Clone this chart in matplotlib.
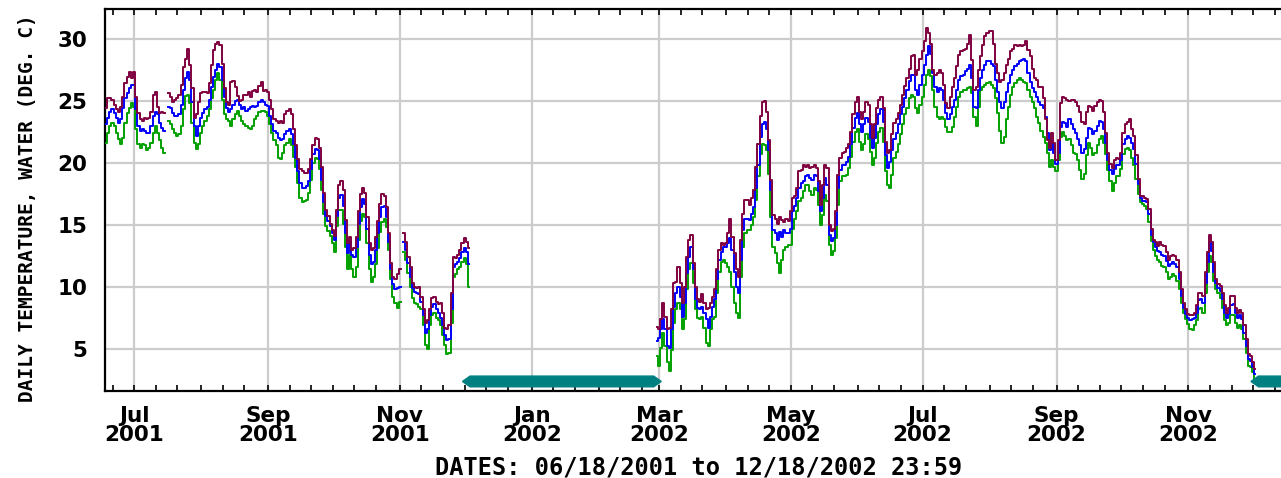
import numpy as np
import pandas as pd
import matplotlib
matplotlib.use("Agg")
import matplotlib.pyplot as plt
import matplotlib.dates as mdates
import matplotlib.transforms as mtrans
from matplotlib.font_manager import FontProperties

# daily water temperature, deg C (None = missing day)
seg1_start = "2001-06-18"
seg1_max = [24.4, 25.2, 25.2, 25.1, 24.7, 24.3, 24.1, 24.5, 25.3, 26.4, 26.9, 27.3, 26.8, 27.3, 25.3, 24.0, 23.5, 23.4, 23.6, 23.5,
            23.6, 24.1, 25.5, 25.7, 24.5, 24.0, 24.1, 24.0, None,
            25.6, 25.3, 24.9, 25.1, 25.2, 25.5, 26.3, 27.7, 28.4, 29.2, 27.9, 26.0, 23.6, 23.9, 24.9, 25.6, 25.7, 25.7, 25.6, 26.4,
            27.9, 29.1, 29.6, 29.7, 29.5, 28.0, 26.0, 24.9, 24.7,
            26.5, 26.6, 26.1, 25.4, 25.0, 25.1, 25.5, 25.5, 25.7, 25.3, 25.8, 25.9, 25.7, 26.2, 26.5, 25.8, 25.9, 25.7,
            25.1, 24.3, 23.5, 23.4, 23.2, 23.4, 23.2, 23.9, 24.2, 24.3, 23.9,
            22.7, 21.4, 20.3, 19.5, 19.3, 19.2, 19.2, 19.5, 20.3, 21.4,
            22.0, 21.9, 21.2, 19.7, 17.6, 16.2, 15.7, 15.1, 14.6, 14.1,
            16.2, 18.2, 18.5, 17.8, 15.4, 13.5,
            14.0, 13.0, 13.1, 14.0, 16.1, 17.5, 18.0, 17.6, 15.6, 13.5, 13.0, 13.1, 14.0, 15.3, 16.7, 17.5, 17.3, 16.4,
            14.3, 11.9, 10.8, 10.6, 11.0, 11.4, None,
            14.3, 13.6, 12.4, 11.6, 10.3, 10.0, 9.9, 10.0, 9.2, 8.2, 7.1, 7.3, 8.2, 9.1, 9.2, 8.8, 8.6, 8.7, 7.9, 6.7,
            6.6, 6.9, 9.5, 12.4, 12.3, 12.6, 13.0, 13.5, 13.9, 13.6, 13.1]
seg1_mean = [23.1, 23.6, 24.1, 24.3, 24.0, 23.6, 23.2, 23.5, 24.4, 25.2, 25.6, 26.0, 26.3, 26.3, 24.3, 23.0, 22.6, 22.7, 22.6, 22.4,
             22.4, 23.0, 23.8, 24.1, 23.9, 23.2, 22.8, 22.6, None,
             24.5, 24.4, 24.0, 23.8, 23.8, 23.9, 24.7, 25.9, 26.8, 27.3, 26.7, 24.9, 23.0, 22.2, 23.0, 23.6, 24.0, 24.3, 24.5, 25.1,
             26.1, 26.9, 27.5, 28.0, 27.7, 26.7, 25.3, 24.4, 24.1,
             24.3, 24.7, 25.0, 25.1, 24.7, 24.3, 24.5, 24.2, 24.3, 24.5, 24.6, 24.5, 24.6, 24.9, 25.1, 24.9, 24.7, 24.6,
             23.8, 23.1, 22.6, 22.4, 22.0, 21.8, 21.9, 22.3, 22.6, 22.7, 22.3,
             21.5, 20.4, 19.3, 18.4, 18.0, 18.0, 18.1, 18.5, 19.5, 20.7,
             21.1, 21.0, 20.3, 18.6, 16.8, 15.7, 15.3, 14.9, 14.3, 13.8,
             15.7, 17.2, 17.4, 16.5, 14.3, 12.7,
             13.6, 12.6, 12.4, 13.2, 15.1, 16.4, 17.1, 16.7, 14.7, 12.6, 11.8, 12.0, 13.0, 14.3, 15.6, 16.4, 16.5, 15.6,
             13.6, 11.4, 10.2, 9.8, 9.9, 10.0, None,
             13.6, 13.0, 11.9, 10.8, 9.9, 9.6, 9.5, 9.4, 8.8, 7.7, 6.3, 6.6, 7.7, 8.4, 8.6, 8.2, 7.9, 7.5, 6.9, 6.1,
             5.7, 5.8, 8.2, 11.6, 11.8, 12.0, 12.3, 12.8, 13.1, 12.8, 11.8]
seg1_min = [21.6, 22.4, 23.0, 23.2, 23.0, 22.4, 21.9, 21.5, 22.0, 23.2, 24.0, 24.4, 24.8, 24.5, 22.7, 21.5, 21.2, 21.5, 21.4, 21.0,
            21.2, 21.6, 22.4, 23.0, 22.4, 21.8, 21.2, 20.8, None,
            23.4, 23.1, 22.7, 22.4, 22.2, 22.3, 23.0, 24.3, 25.4, 25.5, 24.8, 23.2, 21.6, 21.1, 21.5, 22.4, 23.0, 23.4, 23.8, 24.3,
            25.2, 25.9, 26.7, 27.2, 26.7, 25.1, 23.9, 23.5, 23.4,
            23.0, 23.5, 23.9, 24.2, 23.8, 23.4, 23.1, 23.0, 22.8, 22.7, 23.0, 23.5, 23.8, 24.1, 24.2, 24.2, 24.1, 23.8,
            23.1, 22.4, 21.8, 21.4, 20.4, 20.3, 20.8, 21.4, 21.6, 21.9, 21.4,
            20.5, 19.7, 18.4, 17.2, 16.8, 16.9, 17.0, 17.6, 18.6, 20.0,
            20.4, 20.3, 19.5, 17.8, 15.9, 14.9, 14.5, 14.1, 13.5, 12.8,
            14.9, 16.2, 16.2, 15.1, 13.2, 11.4,
            12.6, 11.4, 10.8, 11.6, 13.8, 15.3, 15.9, 15.6, 13.5, 11.4, 10.4, 10.8, 11.8, 13.1, 14.4, 15.2, 15.5, 14.8,
            13.0, 10.6, 9.2, 8.7, 8.3, 8.8, None,
            12.8, 12.2, 11.1, 10.0, 9.1, 8.7, 8.6, 8.4, 8.2, 6.9, 5.3, 5.0, 6.9, 7.7, 7.9, 7.5, 7.3, 6.9, 6.1, 5.3,
            4.6, 4.7, 7.1, 10.8, 11.0, 11.4, 11.6, 12.0, 12.3, 11.8, 10.0]

seg2_start = "2002-02-28"
seg2_max = [6.8, 6.6, 7.4, 8.7, 7.6, 6.6, 6.7, 8.2, 10.3, 10.4, 11.6, 10.3, 8.7, 10.0, 12.4, 13.8, 14.2, 11.9, 10.0, 9.0,
            8.8, 9.4, 8.7, 8.2, 8.3, 8.7, 9.2, 9.8, 11.4, 13.0, 13.5, 13.4, 13.5, 14.3, 15.5, 14.0, 12.7, 11.4, 10.8, 13.8,
            15.9, 17.0, 17.0, 16.6, 17.2, 17.8, 19.7, 21.5, 23.8, 24.9, 25.0, 24.1, 21.8, 18.6, 15.8, 15.5, 15.1, 15.6, 15.4, 15.2,
            15.5,
            15.3, 16.1, 17.2, 17.3, 18.0, 19.3, 19.4, 19.8, 19.7, 19.8, 19.6, 19.7, 19.8, 19.6, 18.5, 16.6, 18.2, 19.8, 19.6, 15.0,
            14.5, 14.7, 16.1, 19.0, 20.4, 20.8, 20.9, 21.2, 21.5, 22.5, 23.9, 24.9, 25.3, 24.1, 23.5, 24.1, 24.9, 24.7, 23.1, 22.0,
            23.1, 24.4, 25.1, 25.3, 24.4, 21.7, 20.8, 21.0, 22.3, 23.2, 23.5, 24.0, 24.7, 25.5, 26.2, 26.8, 27.6, 28.6, 28.7, 27.1,
            27.5, 28.4, 29.0, 29.8, 30.9,
            30.5, 29.6, 27.5, 27.1, 27.2, 27.5, 27.2, 26.3, 24.8, 24.4, 25.3, 26.1, 26.8, 27.8, 28.7, 29.0, 29.1, 29.2, 29.6, 30.3,
            28.3, 25.9, 26.1, 27.5, 28.6, 29.5, 30.2, 30.5, 30.6, 30.6, 29.6, 28.0, 27.2, 26.5, 26.7, 27.2, 27.9, 28.4, 29.0, 29.2,
            29.5, 29.4, 29.5, 29.4, 29.5, 29.8, 29.1, 28.6, 27.6, 26.8, 26.7, 26.1, 26.1, 25.2, 23.5, 21.8, 21.2, 22.4, 21.6, 20.2,
            21.8, 24.8, 25.3, 25.2, 25.1,
            25.0, 25.1, 25.1, 24.9, 24.6, 24.1, 23.3, 23.1, 24.1, 24.6, 24.5, 24.2, 24.6, 24.9, 25.1, 25.0, 24.1, 22.4, 20.8, 19.9,
            19.6, 20.2, 20.4, 20.3, 20.8, 22.4, 23.1, 23.3, 23.5, 22.7, 22.2, 20.6, 18.7, 17.3, 17.3, 17.2, 17.1, 16.3, 14.7, 13.8,
            13.6, 13.3, 13.6, 13.4, 13.3, 12.8, 12.2, 12.5, 12.6, 12.5, 12.2, 11.2, 9.8, 8.7, 8.2, 7.8, 7.7, 7.7, 7.9, 8.5,
            9.5, 9.5, 9.3, 11.2, 12.8, 14.2, 13.6, 12.0, 10.6, 10.2, 10.1, 9.5, 8.5, 7.9, 8.3, 9.3, 9.3, 8.3, 7.9, 8.1,
            7.9, 6.9, 5.8, 4.6, 4.4, 3.9, 3.4]
seg2_mean = [5.6, 5.9, 6.6, 7.4, 6.6, 5.2, 5.1, 6.6, 8.4, 9.5, 10.0, 9.2, 7.6, 8.7, 11.1, 12.4, 13.2, 11.4, 9.0, 8.3,
             8.2, 8.4, 7.9, 7.4, 6.7, 7.6, 8.4, 9.0, 10.6, 12.2, 12.8, 13.2, 13.2, 13.5, 13.9, 13.0, 11.2, 10.0, 9.5, 12.2,
             14.6, 15.5, 15.5, 15.4, 15.9, 16.4, 18.0, 19.8, 22.1, 23.1, 23.3, 22.7, 21.0, 17.8, 14.6, 14.3, 13.8, 14.4, 14.0, 14.6,
             14.3,
             14.3, 14.7, 16.1, 16.5, 17.2, 18.0, 18.4, 18.5, 18.9, 19.0, 18.8, 18.6, 19.0, 18.9, 17.7, 16.1, 17.2, 18.8, 18.2, 14.2,
             13.7, 13.9, 15.0, 18.0, 19.4, 19.8, 19.8, 20.1, 20.5, 21.5, 22.8, 23.6, 24.0, 23.1, 22.5, 23.1, 23.6, 23.3, 22.0, 21.2,
             22.0, 23.1, 23.9, 24.3, 23.3, 20.6, 19.6, 20.1, 21.0, 21.9, 22.4, 23.1, 23.9, 24.5, 25.2, 25.9, 26.6, 27.1, 27.1, 25.9,
             25.5, 26.3, 27.1, 27.9, 28.7,
             29.4, 28.8, 27.2, 26.1, 25.7, 26.0, 25.9, 25.1, 24.0, 23.5, 23.9, 24.5, 25.1, 25.9, 26.7, 27.0, 27.1, 27.4, 27.6, 27.9,
             26.8, 24.5, 24.4, 25.9, 26.8, 27.5, 27.9, 28.2, 28.2, 28.0, 27.8, 26.7, 25.7, 24.9, 24.4, 24.9, 25.7, 26.4, 27.1, 27.5,
             27.8, 28.0, 28.2, 28.3, 28.4, 28.2, 27.2, 26.5, 26.0, 25.7, 25.3, 24.9, 24.7, 24.4, 23.7, 22.4, 21.0, 21.6, 20.8, 19.9,
             20.8, 22.9, 23.3, 23.2, 22.9,
             23.5, 23.1, 22.7, 22.4, 21.9, 21.4, 20.8, 21.1, 22.0, 22.8, 22.7, 22.3, 22.6, 23.0, 23.4, 23.3, 22.7, 21.6, 20.2, 19.4,
             19.1, 19.5, 19.8, 19.8, 20.2, 21.5, 21.9, 22.2, 22.0, 21.6, 21.1, 19.9, 18.3, 17.2, 16.9, 16.9, 16.8, 15.9, 14.2, 13.6,
             13.2, 12.9, 12.8, 12.6, 12.5, 12.1, 11.7, 11.8, 12.0, 11.8, 11.6, 10.6, 9.3, 8.3, 7.8, 7.5, 7.3, 7.4, 7.5, 7.9,
             8.9, 9.0, 8.7, 10.3, 12.0, 13.6, 12.9, 11.2, 10.3, 9.9, 9.7, 9.0, 7.9, 7.5, 7.8, 8.5, 8.6, 7.9, 7.5, 7.7,
             7.4, 6.3, 5.2, 4.2, 4.0, 3.5, 3.0]
seg2_min = [4.4, 3.6, 5.1, 6.3, 5.2, 3.9, 3.2, 4.9, 7.1, 8.2, 8.7, 8.2, 6.6, 7.4, 9.8, 11.4, 11.9, 10.3, 8.2, 7.5,
            7.4, 7.6, 6.7, 5.5, 5.2, 6.6, 7.4, 7.6, 9.5, 11.2, 12.0, 12.2, 11.9, 11.6, 11.2, 10.0, 8.7, 7.9, 7.5, 10.8,
            13.2, 14.3, 14.6, 14.6, 15.0, 15.6, 17.0, 18.9, 20.7, 21.5, 21.4, 21.0, 19.1, 15.6, 13.2, 12.7, 11.9, 11.1, 12.2, 13.0,
            13.2,
            13.4, 13.4, 14.7, 15.5, 16.1, 16.9, 17.2, 17.7, 18.2, 18.2, 17.7, 17.4, 18.0, 17.8, 16.6, 15.0, 15.8, 17.4, 16.9, 13.4,
            12.6, 12.9, 13.9, 16.6, 18.5, 18.9, 18.9, 19.0, 19.6, 20.5, 21.7, 22.5, 22.7, 21.7, 21.0, 21.5, 22.3, 21.9, 20.9, 19.8,
            20.4, 21.6, 22.5, 22.8, 21.7, 19.3, 18.2, 18.0, 19.0, 20.4, 20.9, 21.5, 22.3, 23.1, 23.9, 24.4, 25.2, 25.5, 25.3, 24.4,
            24.0, 24.7, 25.3, 26.3, 27.1,
            27.5, 27.0, 25.9, 24.5, 23.7, 23.5, 23.7, 23.5, 22.9, 22.5, 22.5, 22.9, 23.7, 24.5, 25.3, 25.7, 25.9, 25.9, 26.0, 26.1,
            25.6, 23.7, 23.0, 24.5, 25.9, 26.1, 26.3, 26.4, 26.5, 26.3, 26.0, 25.2, 24.0, 22.6, 21.6, 22.1, 23.5, 24.5, 25.5, 26.1,
            26.4, 26.7, 26.8, 26.7, 26.5, 26.4, 25.9, 25.3, 24.9, 24.4, 23.7, 23.2, 22.6, 22.1, 21.6, 20.8, 19.7, 20.2, 19.7, 19.3,
            20.2, 22.1, 22.5, 22.2, 21.8,
            21.9, 21.4, 20.8, 20.7, 20.2, 19.4, 18.7, 19.1, 20.6, 21.6, 21.2, 20.6, 20.8, 21.4, 21.9, 22.2, 21.6, 20.7, 19.4, 18.5,
            17.7, 18.4, 18.9, 18.9, 19.5, 20.7, 21.1, 21.2, 21.0, 20.4, 19.8, 18.7, 17.5, 16.8, 16.7, 16.5, 16.3, 15.2, 13.7, 13.0,
            12.5, 12.2, 12.0, 11.7, 11.6, 11.2, 10.6, 10.8, 11.0, 10.9, 10.5, 9.8, 8.7, 7.9, 7.4, 7.0, 6.6, 6.5, 6.9, 7.3,
            8.2, 8.3, 7.9, 9.5, 11.2, 12.5, 12.0, 10.5, 9.8, 9.5, 9.1, 8.3, 7.3, 6.9, 7.1, 7.7, 7.7, 7.1, 6.7, 6.9,
            6.6, 5.8, 4.7, 3.6, 3.5, 3.1, 2.6]

# periods with no record (teal bars)
gap_periods = [("2001-11-30", "2002-03-02"), ("2002-11-30", "2002-12-22")]

period_start = "2001-06-18"
period_end = "2002-12-18 23:59"

series = [(seg1_start, seg1_max, seg1_mean, seg1_min), (seg2_start, seg2_max, seg2_mean, seg2_min)]

fig = plt.figure(figsize=(12.81, 4.78), dpi=100)
ax = fig.add_axes([105 / 1281, 87 / 478, 1187 / 1281, 382 / 478])

for start, vmax, vmean, vmin in series:
    d = pd.date_range(start, periods=len(vmax), freq="D")
    ax.plot(d, np.array(vmin, dtype=float), color="#00a000", lw=1.4, drawstyle="steps-mid", zorder=3)
    ax.plot(d, np.array(vmean, dtype=float), color="#0000ff", lw=1.4, drawstyle="steps-mid", zorder=4)
    ax.plot(d, np.array(vmax, dtype=float), color="#800040", lw=1.4, drawstyle="steps-mid", zorder=5)

# missing-record bars with pointed ends
trans = mtrans.blended_transform_factory(ax.transData, ax.transAxes)
yc, hh = 0.025, 0.014
for g0, g1 in gap_periods:
    t0 = mdates.date2num(pd.Timestamp(g0))
    t1 = mdates.date2num(pd.Timestamp(g1))
    tp = 3.5
    xs = [t0, t0 + tp, t1 - tp, t1, t1 - tp, t0 + tp]
    ys = [yc, yc + hh, yc + hh, yc, yc - hh, yc - hh]
    ax.fill(xs, ys, color="#008080", transform=trans, zorder=6, clip_on=True)

ax.set_xlim(pd.Timestamp(period_start) - pd.Timedelta(hours=12), pd.Timestamp(period_end))
ax.set_ylim(1.6, 32.4)

ax.xaxis.set_major_locator(mdates.MonthLocator(bymonth=[1, 3, 5, 7, 9, 11]))
ax.xaxis.set_major_formatter(mdates.DateFormatter("%b\n%Y"))
ax.xaxis.set_minor_locator(mdates.DayLocator(bymonthday=[1, 11, 21]))
ax.set_yticks([5, 10, 15, 20, 25, 30])

ax.grid(True, which="major", color="#cccccc", lw=1.6, zorder=0)
ax.set_axisbelow(True)

for s in ["left", "top", "bottom"]:
    ax.spines[s].set_linewidth(1.6)
    ax.spines[s].set_color("black")
ax.spines["right"].set_visible(False)

ax.tick_params(axis="x", which="both", direction="in", top=True, bottom=True, length=4, width=1.2, pad=11)
ax.tick_params(axis="y", which="both", length=0, pad=13)

tick_font = FontProperties(family="DejaVu Sans", weight="bold", size=15.5)
for lab in ax.get_xticklabels() + ax.get_yticklabels():
    lab.set_fontproperties(tick_font)
    lab.set_linespacing(0.95)

ax.set_xlabel("DATES: 06/18/2001 to 12/18/2002 23:59", family="DejaVu Sans Mono", weight="bold", size=17, labelpad=7)
ax.set_ylabel("DAILY TEMPERATURE, WATER (DEG. C)", family="DejaVu Sans Mono", weight="bold", size=14)
ax.yaxis.set_label_coords(-0.057, 0.48)

fig.savefig("out.png", dpi=100)
